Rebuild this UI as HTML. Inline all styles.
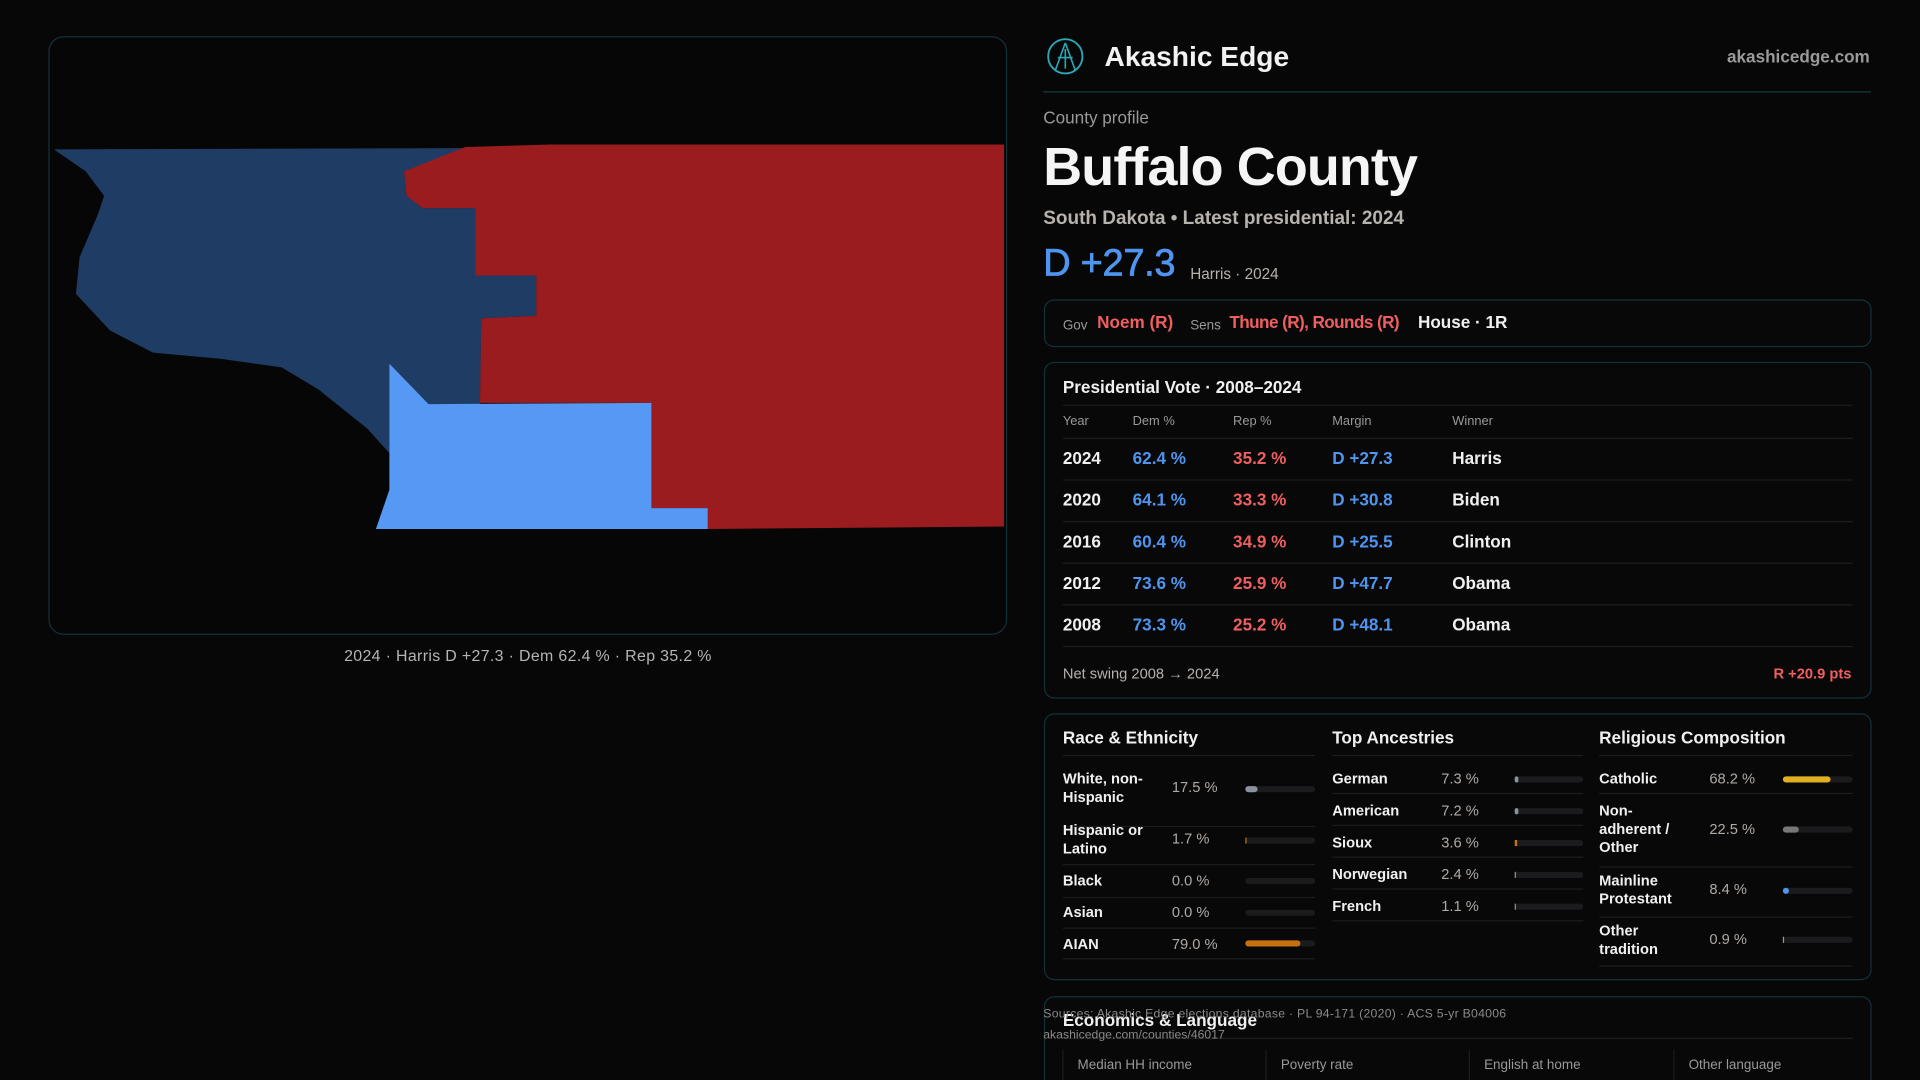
<!DOCTYPE html>
<html><head><meta charset="utf-8"><style>
html,body{margin:0;padding:0;background:#070707;width:1920px;height:1080px;overflow:hidden}
svg{display:block}
text{font-family:"Liberation Sans",sans-serif}
</style></head><body>
<svg width="1920" height="1080" viewBox="0 0 1568 882" xmlns="http://www.w3.org/2000/svg">
<rect width="1568" height="882" fill="#070707"/>
<rect x="40" y="30" width="782" height="488" rx="12" fill="#060606" stroke="#123238" stroke-width="1"/>
<polygon fill="#1f3c64" points="44,122 380,121 330,140 332,160 345,170 388,170 388,225 438,225 438,258 393,260 392,330 350,330 318,297 318,370 300,350 260,318 230,300 180,293 125,288 90,270 62,240 65,210 80,175 85,160 70,140"/>
<polygon fill="#9b1c1f" points="380,120 450,118 820,118 820,430 578,432 578,415 532,415 532,329 392,329 393,260 438,258 438,225 388,225 388,170 345,170 332,160 330,140"/>
<polygon fill="#5599f5" points="318,297 350,330 532,329 532,415 578,415 578,432 307,432 318,400 318,370"/>
<text x="431" y="540" text-anchor="middle" font-size="13" fill="#b5b5b5" textLength="300">2024 · Harris D +27.3 · Dem 62.4 % · Rep 35.2 %</text>

<circle cx="870" cy="46" r="14" fill="none" stroke="#2aa8b8" stroke-width="1.5"/>
<path d="M870 35 L862 57 M870 35 L878 57 M864 47 L876 47 M870 40 L870 56" stroke="#2aa8b8" stroke-width="1.3" fill="none"/>
<text x="902" y="54" font-size="23" font-weight="bold" fill="#f2f2f2">Akashic Edge</text>
<text x="1527" y="51" text-anchor="end" font-size="14" font-weight="bold" fill="#9a9a9a">akashicedge.com</text>
<line x1="852" y1="75" x2="1528" y2="75" stroke="#163a40"/>
<text x="852" y="101" font-size="14" fill="#9a9a9a">County profile</text>
<text x="852" y="151" font-size="44" font-weight="bold" fill="#f5f5f5" textLength="306">Buffalo County</text>
<text x="852" y="183" font-size="15.5" font-weight="bold" fill="#b8b2ad">South Dakota • Latest presidential: 2024</text>
<text x="852" y="225" font-size="31" fill="#4f95f0" stroke="#4f95f0" stroke-width="0.6" textLength="108">D +27.3</text>
<text x="972" y="228" font-size="12.5" fill="#b8b2ad">Harris · 2024</text>

<rect x="853" y="245" width="675" height="38" rx="8" fill="#080808" stroke="#123238"/>
<text x="868" y="269" font-size="11" fill="#999">Gov</text>
<text x="896" y="268" font-size="14" font-weight="bold" fill="#ef5f5f">Noem (R)</text>
<text x="972" y="269" font-size="11" fill="#999">Sens</text>
<text x="1004" y="268" font-size="14" font-weight="bold" fill="#ef5f5f" textLength="139">Thune (R), Rounds (R)</text>
<text x="1158" y="268" font-size="14" font-weight="bold" fill="#f0f0f0">House · 1R</text>

<rect x="853" y="296" width="675" height="274" rx="8" fill="#080808" stroke="#123238"/>
<text x="868" y="321" font-size="14" font-weight="bold" fill="#f0f0f0">Presidential Vote · 2008–2024</text>
<line x1="868" y1="331" x2="1513" y2="331" stroke="#1c1c1c"/>
<g font-size="10.5" fill="#999">
<text x="868" y="347">Year</text><text x="925" y="347">Dem %</text><text x="1007" y="347">Rep %</text><text x="1088" y="347">Margin</text><text x="1186" y="347">Winner</text>
</g>
<g stroke="#1c1c1c"><line x1="868" y1="358" x2="1513" y2="358"/><line x1="868" y1="392" x2="1513" y2="392"/><line x1="868" y1="426" x2="1513" y2="426"/><line x1="868" y1="460" x2="1513" y2="460"/><line x1="868" y1="494" x2="1513" y2="494"/><line x1="868" y1="528" x2="1513" y2="528"/></g>
<g font-size="14" font-weight="bold">
<text x="868" y="379" fill="#f0f0f0">2024</text><text x="925" y="379" fill="#4f95f0">62.4 %</text><text x="1007" y="379" fill="#ef5f5f">35.2 %</text><text x="1088" y="379" fill="#4f95f0">D +27.3</text><text x="1186" y="379" fill="#f0f0f0">Harris</text>
<text x="868" y="413" fill="#f0f0f0">2020</text><text x="925" y="413" fill="#4f95f0">64.1 %</text><text x="1007" y="413" fill="#ef5f5f">33.3 %</text><text x="1088" y="413" fill="#4f95f0">D +30.8</text><text x="1186" y="413" fill="#f0f0f0">Biden</text>
<text x="868" y="447" fill="#f0f0f0">2016</text><text x="925" y="447" fill="#4f95f0">60.4 %</text><text x="1007" y="447" fill="#ef5f5f">34.9 %</text><text x="1088" y="447" fill="#4f95f0">D +25.5</text><text x="1186" y="447" fill="#f0f0f0">Clinton</text>
<text x="868" y="481" fill="#f0f0f0">2012</text><text x="925" y="481" fill="#4f95f0">73.6 %</text><text x="1007" y="481" fill="#ef5f5f">25.9 %</text><text x="1088" y="481" fill="#4f95f0">D +47.7</text><text x="1186" y="481" fill="#f0f0f0">Obama</text>
<text x="868" y="515" fill="#f0f0f0">2008</text><text x="925" y="515" fill="#4f95f0">73.3 %</text><text x="1007" y="515" fill="#ef5f5f">25.2 %</text><text x="1088" y="515" fill="#4f95f0">D +48.1</text><text x="1186" y="515" fill="#f0f0f0">Obama</text>
</g>
<text x="868" y="554" font-size="12" fill="#b8b2ad">Net swing 2008 → 2024</text>
<text x="1512" y="554" text-anchor="end" font-size="12" font-weight="bold" fill="#ef5f5f">R +20.9 pts</text>

<rect x="853" y="583" width="675" height="217" rx="8" fill="#080808" stroke="#123238"/>
<g font-size="14" font-weight="bold" fill="#f0f0f0">
<text x="868" y="607">Race &amp; Ethnicity</text><text x="1088" y="607">Top Ancestries</text><text x="1306" y="607">Religious Composition</text>
</g>
<g stroke="#1c1c1c">
<line x1="868" y1="617" x2="1074" y2="617"/><line x1="1088" y1="617" x2="1293" y2="617"/><line x1="1306" y1="617" x2="1513" y2="617"/>
<line x1="868" y1="675" x2="1074" y2="675"/><line x1="868" y1="706" x2="1074" y2="706"/><line x1="868" y1="733" x2="1074" y2="733"/><line x1="868" y1="758" x2="1074" y2="758"/><line x1="868" y1="783" x2="1074" y2="783"/>
<line x1="1088" y1="648" x2="1293" y2="648"/><line x1="1088" y1="674" x2="1293" y2="674"/><line x1="1088" y1="700" x2="1293" y2="700"/><line x1="1088" y1="726" x2="1293" y2="726"/><line x1="1088" y1="752" x2="1293" y2="752"/>
<line x1="1306" y1="648" x2="1513" y2="648"/><line x1="1306" y1="708" x2="1513" y2="708"/><line x1="1306" y1="749" x2="1513" y2="749"/><line x1="1306" y1="789" x2="1513" y2="789"/>
</g>
<g font-size="12" font-weight="bold" fill="#f0f0f0">
<text x="868" y="640">White, non-</text><text x="868" y="655">Hispanic</text>
<text x="868" y="682">Hispanic or</text><text x="868" y="697">Latino</text>
<text x="868" y="723">Black</text><text x="868" y="749">Asian</text><text x="868" y="775">AIAN</text>
<text x="1088" y="640">German</text><text x="1088" y="666">American</text><text x="1088" y="692">Sioux</text><text x="1088" y="718">Norwegian</text><text x="1088" y="744">French</text>
<text x="1306" y="640">Catholic</text>
<text x="1306" y="666">Non-</text><text x="1306" y="681">adherent /</text><text x="1306" y="696">Other</text>
<text x="1306" y="723">Mainline</text><text x="1306" y="738">Protestant</text>
<text x="1306" y="764">Other</text><text x="1306" y="779">tradition</text>
</g>
<g font-size="12" fill="#b0aaa5">
<text x="957" y="647">17.5 %</text><text x="957" y="689">1.7 %</text><text x="957" y="723">0.0 %</text><text x="957" y="749">0.0 %</text><text x="957" y="775">79.0 %</text>
<text x="1177" y="640">7.3 %</text><text x="1177" y="666">7.2 %</text><text x="1177" y="692">3.6 %</text><text x="1177" y="718">2.4 %</text><text x="1177" y="744">1.1 %</text>
<text x="1396" y="640">68.2 %</text><text x="1396" y="681">22.5 %</text><text x="1396" y="730">8.4 %</text><text x="1396" y="771">0.9 %</text>
</g>
<g fill="#1b1b1d">
<rect x="1017" y="642" width="57" height="5" rx="2.5"/><rect x="1017" y="684" width="57" height="5" rx="2.5"/><rect x="1017" y="717" width="57" height="5" rx="2.5"/><rect x="1017" y="743" width="57" height="5" rx="2.5"/><rect x="1017" y="768" width="57" height="5" rx="2.5"/>
<rect x="1237" y="634" width="56" height="5" rx="2.5"/><rect x="1237" y="660" width="56" height="5" rx="2.5"/><rect x="1237" y="686" width="56" height="5" rx="2.5"/><rect x="1237" y="712" width="56" height="5" rx="2.5"/><rect x="1237" y="738" width="56" height="5" rx="2.5"/>
<rect x="1456" y="634" width="57" height="5" rx="2.5"/><rect x="1456" y="675" width="57" height="5" rx="2.5"/><rect x="1456" y="725" width="57" height="5" rx="2.5"/><rect x="1456" y="765" width="57" height="5" rx="2.5"/>
</g>
<rect x="1017" y="642" width="10" height="5" rx="2.5" fill="#8a92a0"/>
<rect x="1017" y="684" width="1" height="5" fill="#c77010"/>
<rect x="1017" y="768" width="45" height="5" rx="2.5" fill="#c77010"/>
<rect x="1237" y="634" width="3" height="5" rx="1.5" fill="#8a92a0"/>
<rect x="1237" y="660" width="3" height="5" rx="1.5" fill="#8a92a0"/>
<rect x="1237" y="686" width="2" height="5" fill="#c77010"/>
<rect x="1237" y="712" width="1" height="5" fill="#8a92a0"/>
<rect x="1237" y="738" width="1" height="5" fill="#8a92a0"/>
<rect x="1456" y="634" width="39" height="5" rx="2.5" fill="#e0b020"/>
<rect x="1456" y="675" width="13" height="5" rx="2.5" fill="#777"/>
<rect x="1456" y="725" width="5" height="5" rx="2.5" fill="#4f95f0"/>
<rect x="1456" y="765" width="1" height="5" fill="#999"/>

<rect x="853" y="814" width="675" height="100" rx="8" fill="#080808" stroke="#123238"/>
<text x="868" y="838" font-size="14" font-weight="bold" fill="#f0f0f0">Economics &amp; Language</text>
<line x1="868" y1="848" x2="1513" y2="848" stroke="#1c1c1c"/>
<g stroke="#1c1c1c"><line x1="868" y1="857" x2="868" y2="882"/><line x1="1034" y1="857" x2="1034" y2="882"/><line x1="1200" y1="857" x2="1200" y2="882"/><line x1="1367" y1="857" x2="1367" y2="882"/></g>
<g font-size="11" fill="#999"><text x="880" y="873">Median HH income</text><text x="1046" y="873">Poverty rate</text><text x="1212" y="873">English at home</text><text x="1379" y="873">Other language</text></g>
<text x="852" y="831" font-size="10" fill="#8a8a8a" textLength="378">Sources: Akashic Edge elections database · PL 94-171 (2020) · ACS 5-yr B04006</text>
<text x="852" y="848" font-size="10" fill="#8a8a8a">akashicedge.com/counties/46017</text>
</svg>
</body></html>
